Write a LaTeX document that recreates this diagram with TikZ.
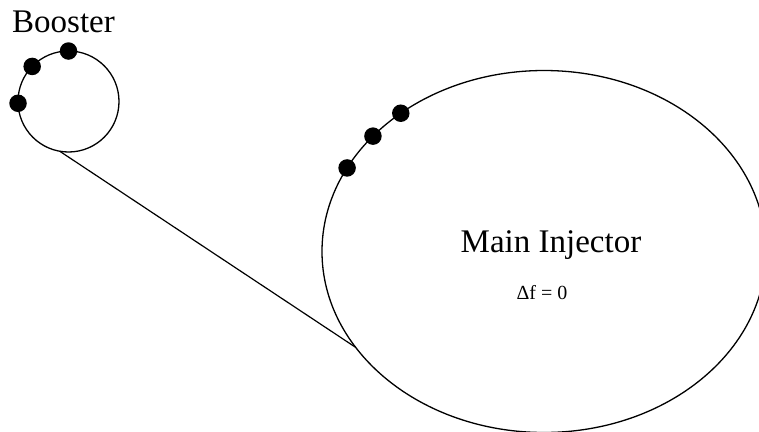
\documentclass[tikz,border=0pt]{standalone}
\usepackage{fontspec}
\setmainfont{Liberation Serif}
\usetikzlibrary{shapes.geometric}
\begin{document}
\begin{tikzpicture}[x=1bp,y=-1bp,
  ring/.style={draw=black,line width=1.3bp,inner sep=0pt,outer sep=0pt},
  bunch/.style={circle,fill=black,inner sep=0pt,minimum size=17.5bp},
  conn/.style={draw=black,line width=1.2bp}]
\useasboundingbox (0,0) rectangle (759,431);
\node[ring,circle,minimum size=101bp] (B) at (68.5,101.5) {};
\node[ring,ellipse,minimum width=444bp,minimum height=362bp] (MI) at (544,251.5) {};
\draw[conn] (B.260) -- (MI.207.4);
\node[bunch] (b1) at (B.90) {};
\node[bunch] (b2) at (B.136) {};
\node[bunch] (b3) at (B.182) {};
\node[bunch] (m1) at (MI.136.6) {};
\node[bunch] (m2) at (MI.146.7) {};
\node[bunch] (m3) at (MI.157.9) {};
\node[anchor=base,inner sep=0pt,font=\fontsize{33bp}{36bp}\selectfont] (tb) at (63.5,32) {Booster};
\node[anchor=base,inner sep=0pt,font=\fontsize{33bp}{36bp}\selectfont] (tm) at (551,252) {Main Injector};
\node[anchor=base,inner sep=0pt,font=\fontsize{20bp}{22bp}\selectfont] (tf) at (542,299) {Δf = 0};
\end{tikzpicture}
\end{document}
